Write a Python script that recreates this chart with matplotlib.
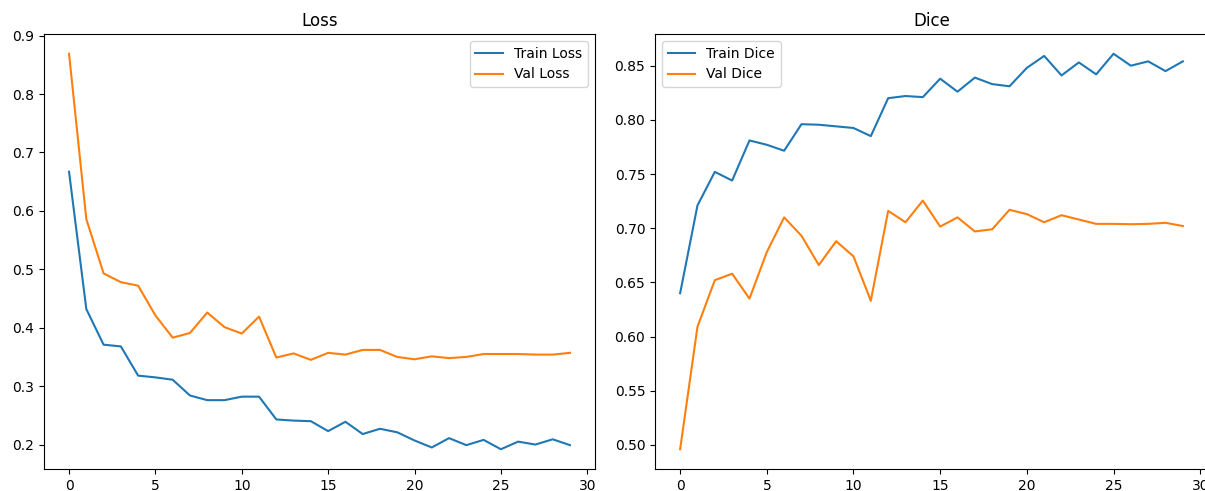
import matplotlib
matplotlib.use("Agg")
import matplotlib.pyplot as plt
import numpy as np

epochs = list(range(30))

train_loss = [0.667, 0.432, 0.371, 0.368, 0.318, 0.315, 0.311, 0.284, 0.276, 0.276,
              0.282, 0.282, 0.243, 0.241, 0.240, 0.223, 0.239, 0.218, 0.227, 0.221,
              0.207, 0.195, 0.211, 0.199, 0.208, 0.192, 0.205, 0.200, 0.209, 0.199]
val_loss = [0.869, 0.586, 0.493, 0.478, 0.472, 0.421, 0.383, 0.391, 0.426, 0.401,
            0.390, 0.419, 0.349, 0.356, 0.345, 0.357, 0.354, 0.362, 0.362, 0.350,
            0.346, 0.351, 0.348, 0.350, 0.355, 0.355, 0.355, 0.354, 0.354, 0.357]

train_dice = [0.640, 0.721, 0.752, 0.744, 0.781, 0.777, 0.7715, 0.796, 0.7955, 0.794,
              0.7925, 0.785, 0.820, 0.822, 0.821, 0.838, 0.826, 0.839, 0.833, 0.831,
              0.848, 0.859, 0.841, 0.853, 0.842, 0.861, 0.850, 0.854, 0.845, 0.854]
val_dice = [0.496, 0.609, 0.652, 0.658, 0.635, 0.678, 0.710, 0.693, 0.666, 0.688,
            0.674, 0.633, 0.716, 0.7055, 0.7255, 0.7015, 0.710, 0.697, 0.699, 0.717,
            0.713, 0.7055, 0.712, 0.708, 0.704, 0.704, 0.7037, 0.704, 0.705, 0.702]

fig = plt.figure(figsize=(12.05, 4.91), dpi=100)
# right panel runs just past the canvas edge, like the cropped original
ax1 = fig.add_axes([44 / 1205, 22 / 491, 551 / 1205, 435 / 491])
ax2 = fig.add_axes([655 / 1205, 22 / 491, 553 / 1205, 435 / 491])

ax1.plot(epochs, train_loss, label="Train Loss")
ax1.plot(epochs, val_loss, label="Val Loss")
ax1.set_title("Loss")
ax1.legend(loc="upper right")

ax2.plot(epochs, train_dice, label="Train Dice")
ax2.plot(epochs, val_dice, label="Val Dice")
ax2.set_title("Dice")
ax2.legend(loc="upper left")

fig.savefig("out.png", dpi=100)
